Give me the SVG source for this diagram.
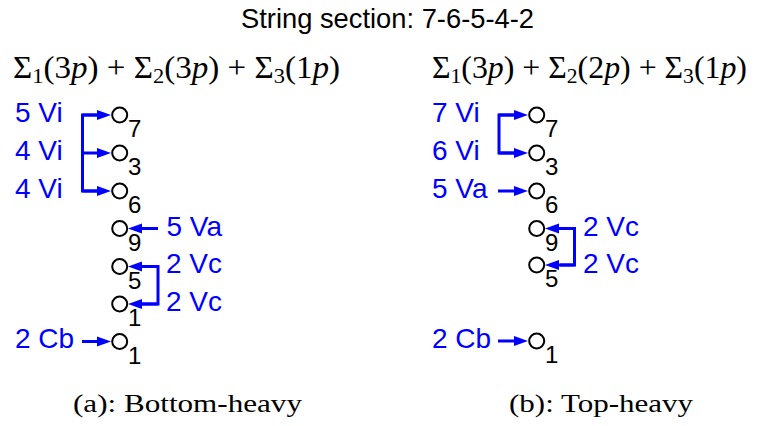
<svg xmlns="http://www.w3.org/2000/svg" width="757" height="426" viewBox="0 0 757 426">
<style>
.title{font-family:"Liberation Sans",Arial,sans-serif;font-size:28px;fill:#000}
.math{font-family:"Liberation Serif","Times New Roman",serif;font-size:31px;fill:#000}
.cap{font-family:"Liberation Serif","Times New Roman",serif;font-size:26px;fill:#000}
.lbl{font-family:"Liberation Sans",Arial,sans-serif;font-size:28px;fill:#0000ff}
.sub{font-family:"Liberation Sans",Arial,sans-serif;font-size:24px;fill:#000}
.node circle{fill:#fff;stroke:#000;stroke-width:2}
.wire{fill:none;stroke:#0000ff;stroke-width:3;stroke-linejoin:miter}
.arr{fill:none;stroke:#0000ff;stroke-width:3;marker-end:url(#ah)}
</style>
<defs>
<marker id="ah" markerUnits="userSpaceOnUse" markerWidth="15" markerHeight="12" refX="0" refY="5" orient="auto" overflow="visible">
<path d="M0,0 L14,5 L0,10 z" fill="#0000ff"/>
</marker>
</defs>
<rect width="757" height="426" fill="#fff"/>
<text class="title" x="241" y="28" textLength="293" lengthAdjust="spacingAndGlyphs">String section: 7-6-5-4-2</text>
<text class="math" x="13" y="78" textLength="327" lengthAdjust="spacingAndGlyphs">Σ<tspan font-size="21" dy="5">1</tspan><tspan dy="-5">(3</tspan><tspan font-style="italic">p</tspan>) + Σ<tspan font-size="21" dy="5">2</tspan><tspan dy="-5">(3</tspan><tspan font-style="italic">p</tspan>) + Σ<tspan font-size="21" dy="5">3</tspan><tspan dy="-5">(1</tspan><tspan font-style="italic">p</tspan>)</text>
<text class="math" x="432" y="78" textLength="315" lengthAdjust="spacingAndGlyphs">Σ<tspan font-size="21" dy="5">1</tspan><tspan dy="-5">(3</tspan><tspan font-style="italic">p</tspan>) + Σ<tspan font-size="21" dy="5">2</tspan><tspan dy="-5">(2</tspan><tspan font-style="italic">p</tspan>) + Σ<tspan font-size="21" dy="5">3</tspan><tspan dy="-5">(1</tspan><tspan font-style="italic">p</tspan>)</text>

<g id="connectors">
<path class="wire" d="M97,115 H82.5 V191 H97"/>
<path class="arr" d="M82.5,115 H97"/>
<path class="arr" d="M82.5,153 H97"/>
<path class="arr" d="M82.5,191 H97"/>
<path class="arr" d="M158,228.5 H142"/>
<path class="wire" d="M142,266.5 H158 V304 H142"/>
<path class="arr" d="M158,266.5 H142"/>
<path class="arr" d="M158,304 H142"/>
<path class="arr" d="M82,341.5 H97"/>
<path class="wire" d="M514,115 H499 V153 H514"/>
<path class="arr" d="M499,115 H514"/>
<path class="arr" d="M499,153 H514"/>
<path class="arr" d="M498,191 H514"/>
<path class="wire" d="M560,228.5 H574.5 V265 H560"/>
<path class="arr" d="M574.5,228.5 H559"/>
<path class="arr" d="M574.5,265 H559"/>
<path class="arr" d="M498,341 H514"/>
</g>

<g id="labels">
<text class="lbl" x="15" y="122">5 Vi</text>
<text class="lbl" x="15" y="160">4 Vi</text>
<text class="lbl" x="15" y="197.5">4 Vi</text>
<text class="lbl" x="166.5" y="236">5 Va</text>
<text class="lbl" x="166" y="273">2 Vc</text>
<text class="lbl" x="166" y="311">2 Vc</text>
<text class="lbl" x="15" y="348">2 Cb</text>
<text class="lbl" x="432" y="122">7 Vi</text>
<text class="lbl" x="432" y="160">6 Vi</text>
<text class="lbl" x="432" y="197.5">5 Va</text>
<text class="lbl" x="583" y="236">2 Vc</text>
<text class="lbl" x="583" y="273">2 Vc</text>
<text class="lbl" x="432" y="348">2 Cb</text>
</g>

<g id="a7" class="node"><circle cx="119.7" cy="115" r="7.5"/><text class="sub" x="128" y="137">7</text></g>
<g id="a3" class="node"><circle cx="119.7" cy="153" r="7.5"/><text class="sub" x="128" y="175">3</text></g>
<g id="a6" class="node"><circle cx="119.7" cy="191" r="7.5"/><text class="sub" x="128" y="213">6</text></g>
<g id="a9" class="node"><circle cx="119.7" cy="228.5" r="7.5"/><text class="sub" x="128" y="250.5">9</text></g>
<g id="a5" class="node"><circle cx="119.7" cy="266.5" r="7.5"/><text class="sub" x="128" y="288.5">5</text></g>
<g id="a1" class="node"><circle cx="119.7" cy="304" r="7.5"/><text class="sub" x="128" y="326">1</text></g>
<g id="a1b" class="node"><circle cx="119.7" cy="341.5" r="7.5"/><text class="sub" x="128" y="363.5">1</text></g>

<g id="b7" class="node"><circle cx="536.7" cy="115" r="7.5"/><text class="sub" x="545" y="137">7</text></g>
<g id="b3" class="node"><circle cx="536.7" cy="153" r="7.5"/><text class="sub" x="545" y="175">3</text></g>
<g id="b6" class="node"><circle cx="536.7" cy="191" r="7.5"/><text class="sub" x="545" y="213">6</text></g>
<g id="b9" class="node"><circle cx="536.7" cy="228.5" r="7.5"/><text class="sub" x="545" y="250.5">9</text></g>
<g id="b5" class="node"><circle cx="536.7" cy="265" r="7.5"/><text class="sub" x="545" y="287">5</text></g>
<g id="b1" class="node"><circle cx="536.7" cy="341" r="7.5"/><text class="sub" x="545" y="363">1</text></g>

<text class="cap" x="73" y="412" textLength="229" lengthAdjust="spacingAndGlyphs">(a): Bottom-heavy</text>
<text class="cap" x="509" y="412" textLength="184" lengthAdjust="spacingAndGlyphs">(b): Top-heavy</text>
</svg>
